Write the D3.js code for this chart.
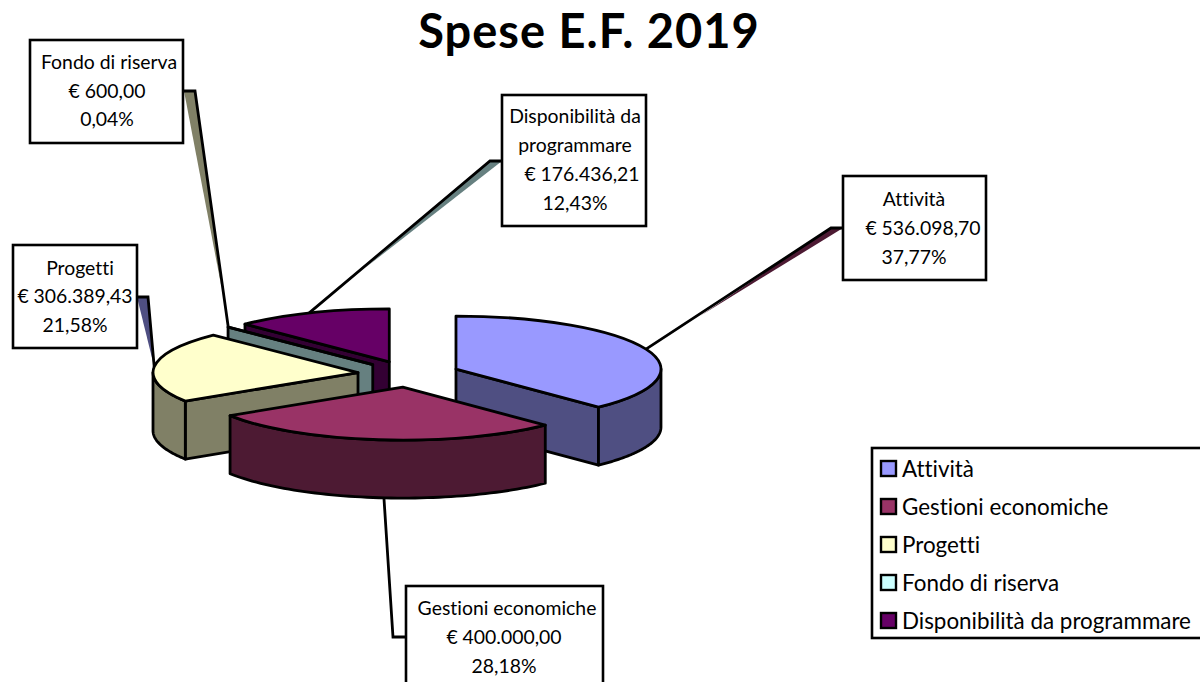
<!DOCTYPE html>
<html><head><meta charset="utf-8">
<script src="https://cdn.jsdelivr.net/npm/d3@7/dist/d3.min.js"></script>
<style>html,body{margin:0;padding:0;background:#fff;overflow:hidden}svg{display:block}text{font-family:Lato,"Open Sans",sans-serif;fill:#000;font-variant-ligatures:none;font-feature-settings:"liga" 0}</style>
</head><body><svg id="c" width="1200" height="682"></svg>
<script>
const categories = ["Attività","Gestioni economiche","Progetti","Fondo di riserva","Disponibilità da programmare"];
const values = [536098.70,400000.00,306389.43,600.00,176436.21];
const topColors = ["#9999ff","#993366","#ffffcc","#ccffff","#660066"];
const wallColors = ["#4f4f82","#4d1a33","#808066","#668080","#330033"];
const titleText = "Spese E.F. 2019";

const W=1200,H=682, cx=408.7, cy=374, R=205, tilt=0.2585, depth=58, explode=51;
const svg=d3.select("#c");
const total=d3.sum(values);
const loc=d3.formatLocale({decimal:",",thousands:".",grouping:[3],currency:["€ ",""]});
const money=loc.format("$,.2f"), pct=v=>loc.format(".2f")(v/total*100)+"%";

const arcs=d3.pie().sort(null).value(d=>d)(values).map((a,i)=>{
  const mid=(a.startAngle+a.endAngle)/2;
  return {...a,i,mid,ox:cx+explode*Math.sin(mid),oy:cy-explode*tilt*Math.cos(mid)};
});
const pt=(a,t,r,dz=0)=>[a.ox+r*Math.sin(t),a.oy-r*tilt*Math.cos(t)+dz];
const line=d3.line();
const arcGen=d3.arc().innerRadius(0).outerRadius(R);

// label boxes and leaders (annotation layout, by category index)
const boxes=[
 {i:0,x:843,y:176,w:143,h:104,elbow:[831,228],end:[843,228],tip:[700,316],wedge:1,dz:0,nudge:0,
  lines:[[914,206,0],[923,235,1],[914,264,2]]},
 {i:1,x:406,y:586,w:197,h:110,elbow:[393,637],end:[406,637],tip:null,dz:58,nudge:5,
  lines:[[507,615,0],[504,644,1],[504,673,2]]},
 {i:2,x:13,y:245,w:124,h:103,elbow:[148,297],end:[137,297],tip:[153,362],wedge:0,dz:0,nudge:0,
  lines:[[80,275,0],[75,303,1],[75,332,2]]},
 {i:3,x:30,y:40,w:153,h:103,elbow:[195,91],end:[184,91],tip:[222,290],wedge:2,dz:0,nudge:0,
  lines:[[109,69,0],[107,98,1],[107,126,2]]},
 {i:4,x:502,y:95,w:144,h:131,elbow:[490,161],end:[502,161],tip:[365,268],wedge:3,dz:0,nudge:-2,
  lines:[[575,123,"Disponibilità da"],[575,152,"programmare"],[582,181,1],[575,210,2]]}
];
const leaders=svg.append("g");
boxes.forEach(b=>{
  const a=arcs[b.i];
  const anchor=pt(a,a.mid,R,b.dz);
  anchor[0]+=b.nudge;
  if(b.tip) leaders.append("path").attr("d",line([b.elbow,b.end,b.tip])+"Z").attr("fill",wallColors[b.wedge]);
  leaders.append("path").attr("d",line([anchor,b.elbow,b.end])).attr("fill","none").attr("stroke","#000").attr("stroke-width",2.8);
});

// pie, back to front
const order=[4,3,2,0,1];
const pie=svg.append("g").attr("stroke","#000").attr("stroke-width",2.8).attr("stroke-linejoin","round");
const sample=(a,t0,t1,dz)=>d3.range(0,61).map(k=>pt(a,t0+(t1-t0)*k/60,R,dz));
order.forEach(i=>{
  const a=arcs[i], s=a.startAngle, e=a.endAngle, wc=wallColors[i];
  const radial=t=>{const p=[a.ox,a.oy],q=pt(a,t,R);
    pie.append("path").attr("fill",wc).attr("d",line([p,q,[q[0],q[1]+depth],[p[0],p[1]+depth]])+"Z");};
  if(Math.cos(s-Math.PI/2)<0) radial(s);
  if(Math.cos(e+Math.PI/2)<0) radial(e);
  const t0=Math.max(s,Math.PI/2), t1=Math.min(e,3*Math.PI/2);
  if(t1>t0){
    const top=sample(a,t0,t1,0), bot=sample(a,t1,t0,depth);
    pie.append("path").attr("fill",wc).attr("d",line(top.concat(bot))+"Z");
  }
  pie.append("path").attr("fill",topColors[i]).attr("d",arcGen(a))
    .attr("vector-effect","non-scaling-stroke")
    .attr("transform",`translate(${a.ox},${a.oy}) scale(1,${tilt})`);
});

// boxes
boxes.forEach(b=>{
  svg.append("rect").attr("x",b.x).attr("y",b.y).attr("width",b.w).attr("height",b.h)
    .attr("fill","#fff").attr("stroke","#000").attr("stroke-width",2.6);
  const texts=[categories[b.i],money(values[b.i]),pct(values[b.i])];
  b.lines.forEach(l=>{
    svg.append("text").attr("x",l[0]).attr("y",l[1]).attr("text-anchor","middle")
      .attr("font-size",19.4).text(typeof l[2]==="string"?l[2]:texts[l[2]]);
  });
});

// title
svg.append("text").attr("x",589).attr("y",48).attr("text-anchor","middle")
  .attr("font-size",47).attr("letter-spacing",1).attr("font-weight",700).text(titleText);

// legend
const lg=svg.append("g");
lg.append("rect").attr("x",872).attr("y",448).attr("width",340).attr("height",190)
  .attr("fill","#fff").attr("stroke","#000").attr("stroke-width",2.6);
const ly=d3.scalePoint().domain(categories).range([469,621]);
categories.forEach((c,i)=>{
  lg.append("rect").attr("x",881).attr("y",ly(c)-8).attr("width",15).attr("height",15)
    .attr("fill",topColors[i]).attr("stroke","#000").attr("stroke-width",2.4);
  lg.append("text").attr("x",902).attr("y",ly(c)+8).attr("font-size",22.4).text(c);
});
</script></body></html>
